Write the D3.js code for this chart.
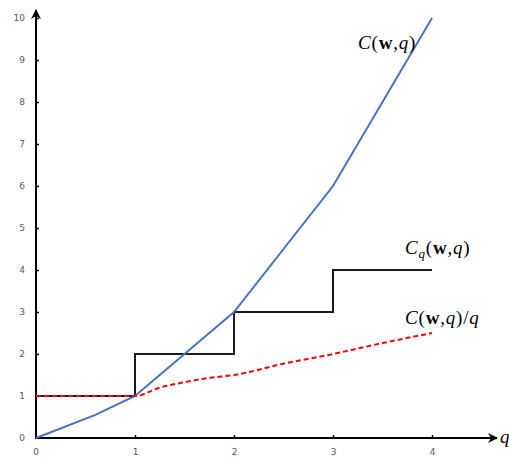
<!DOCTYPE html>
<html>
<head>
<meta charset="utf-8">
<script src="https://cdn.jsdelivr.net/npm/d3@7"></script>
<style>
  html, body { margin: 0; padding: 0; background: #fff; }
  svg { display: block; }
  .tick text { fill: #595959; font-family: "DejaVu Sans", Verdana, sans-serif; font-size: 9px; }
  .tick line { stroke: #000; stroke-width: 1.5; }
  .lbl { font-family: "Liberation Serif", "Times New Roman", serif; font-size: 19px; letter-spacing: 0.8px; fill: #000; }
</style>
</head>
<body>
<svg id="chart" width="509" height="459"></svg>
<script>
// Quantity q and cost curves
const qTicks = [0, 1, 2, 3, 4];
const yTicks = [0, 1, 2, 3, 4, 5, 6, 7, 8, 9, 10];

// Total cost C(w,q)
const costQ = [0, 0.6, 1, 2, 3, 4];
const costV = [0, 0.55, 1, 3, 6, 10];

// Average cost C(w,q)/q
const avgQ = [0, 1, 1.25, 1.5, 1.75, 2, 2.5, 3, 3.5, 4];
const avgV = [1, 1, 1.2, 1.33, 1.43, 1.5, 1.77, 2, 2.26, 2.5];

// Step cost C_q(w,q)
const stepQ = [0, 1, 1, 2, 2, 3, 3, 4];
const stepV = [1, 1, 2, 2, 3, 3, 4, 4];

const svg = d3.select("#chart");

const x = d3.scaleLinear().domain([0, 4]).range([36, 432]);
const y = d3.scaleLinear().domain([0, 10]).range([438, 18]);

// arrowhead marker for the axes
svg.append("defs").append("marker")
  .attr("id", "arrow")
  .attr("viewBox", "0 0 10 10")
  .attr("refX", 9).attr("refY", 5)
  .attr("markerWidth", 5).attr("markerHeight", 5)
  .attr("markerUnits", "strokeWidth")
  .attr("orient", "auto")
  .append("path")
  .attr("d", "M0,0 L10,5 L0,10 L3,5 Z")
  .attr("fill", "#000");

// axes with small inward ticks
const gx = svg.append("g")
  .attr("transform", `translate(0,${y(0)})`)
  .call(d3.axisBottom(x).tickValues(qTicks.slice(1)).tickFormat(d3.format("d"))
    .tickSizeInner(-3).tickSizeOuter(0).tickPadding(11));
gx.select(".domain").remove();
// "0" label under origin
gx.append("g").attr("class", "tick").attr("transform", `translate(${x(0)},0)`)
  .append("text").attr("y", 11).attr("dy", "0.71em").attr("text-anchor", "middle").text("0");

const gy = svg.append("g")
  .attr("transform", `translate(${x(0)},0)`)
  .call(d3.axisLeft(y).tickValues(yTicks).tickFormat(d3.format("d"))
    .tickSizeInner(-3).tickSizeOuter(0).tickPadding(11));
gy.select(".domain").remove();
gy.selectAll(".tick").filter(d => d === 0).select("line").remove();

svg.append("line")
  .attr("x1", x(0)).attr("y1", y(0)).attr("x2", 497).attr("y2", y(0))
  .attr("stroke", "#000").attr("stroke-width", 2).attr("marker-end", "url(#arrow)");
svg.append("line")
  .attr("x1", x(0)).attr("y1", y(0) + 1).attr("x2", x(0)).attr("y2", 10)
  .attr("stroke", "#000").attr("stroke-width", 2).attr("marker-end", "url(#arrow)");

const zip = (a, b) => a.map((v, i) => [v, b[i]]);

// step cost
svg.append("path")
  .datum(zip(stepQ, stepV))
  .attr("fill", "none").attr("stroke", "#1a1a1a").attr("stroke-width", 2)
  .attr("d", d3.line().x(d => x(d[0])).y(d => y(d[1])));

// total cost
svg.append("path")
  .datum(zip(costQ, costV))
  .attr("fill", "none").attr("stroke", "#4472C4").attr("stroke-width", 2)
  .attr("d", d3.line().x(d => x(d[0])).y(d => y(d[1])));

// average cost
svg.append("path")
  .datum(zip(avgQ, avgV))
  .attr("fill", "none").attr("stroke", "#FF0000").attr("stroke-width", 2)
  .attr("stroke-dasharray", "5,3")
  .attr("d", d3.line().curve(d3.curveMonotoneX).x(d => x(d[0])).y(d => y(d[1])));

// curve labels
const t1 = svg.append("text").attr("class", "lbl").attr("x", 358).attr("y", 49);
t1.append("tspan").attr("font-style", "italic").text("C");
t1.append("tspan").text("(");
t1.append("tspan").attr("font-weight", "bold").text("w");
t1.append("tspan").text(",");
t1.append("tspan").attr("font-style", "italic").text("q");
t1.append("tspan").text(")");

const t2 = svg.append("text").attr("class", "lbl").attr("x", 405).attr("y", 254);
t2.append("tspan").attr("font-style", "italic").text("C");
t2.append("tspan").attr("font-style", "italic").attr("font-size", "13px").attr("dy", 4).text("q");
t2.append("tspan").attr("dy", -4).text("(");
t2.append("tspan").attr("font-weight", "bold").text("w");
t2.append("tspan").text(",");
t2.append("tspan").attr("font-style", "italic").text("q");
t2.append("tspan").text(")");

const t3 = svg.append("text").attr("class", "lbl").attr("x", 405).attr("y", 324);
t3.append("tspan").attr("font-style", "italic").text("C");
t3.append("tspan").text("(");
t3.append("tspan").attr("font-weight", "bold").text("w");
t3.append("tspan").text(",");
t3.append("tspan").attr("font-style", "italic").text("q");
t3.append("tspan").text(")/");
t3.append("tspan").attr("font-style", "italic").text("q");

// axis name
svg.append("text").attr("class", "lbl").attr("x", 500).attr("y", 443)
  .attr("font-style", "italic").attr("font-size", "20px").text("q");
</script>
</body>
</html>
